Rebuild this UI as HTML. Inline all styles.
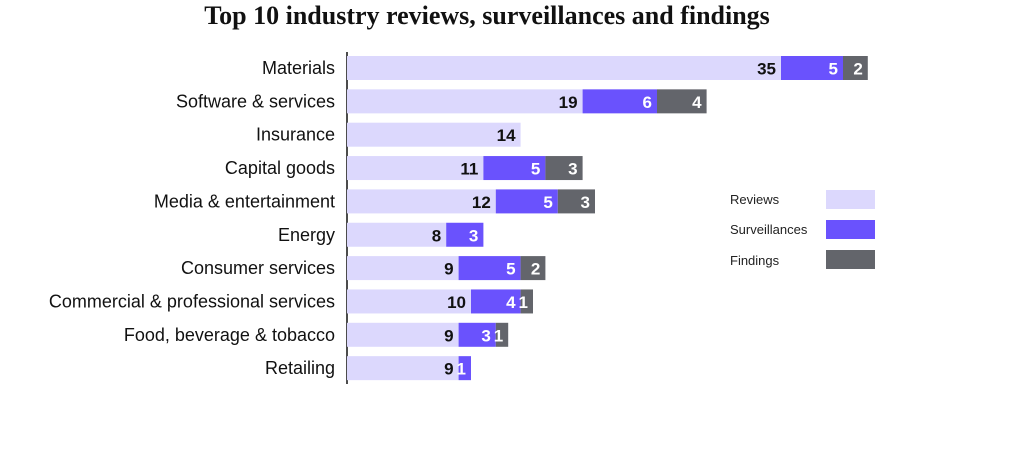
<!DOCTYPE html>
<html><head><meta charset="utf-8"><style>
body{margin:0;background:#fff;width:1024px;height:457px;overflow:hidden}
svg text{font-family:"Liberation Sans",sans-serif}
</style></head><body>
<svg id="c" width="1024" height="457">
<text x="487" y="24" text-anchor="middle" font-family="Liberation Serif,serif" style="font-family:'Liberation Serif',serif" font-weight="bold" font-size="26" fill="#111">Top 10 industry reviews, surveillances and findings</text>
<line x1="347" y1="52" x2="347" y2="384" stroke="#111" stroke-width="1.5"/>
<g>
<text x="730" y="204" font-size="13" fill="#222">Reviews</text>
<rect x="826" y="190" width="49" height="19" fill="#dcd8fd"/>
<text x="730" y="234" font-size="13" fill="#222">Surveillances</text>
<rect x="826" y="220" width="49" height="19" fill="#6a52fd"/>
<text x="730" y="265" font-size="13" fill="#222">Findings</text>
<rect x="826" y="250" width="49" height="19" fill="#63656b"/>
</g>
</svg>
<script>
const categories=["Materials","Software & services","Insurance","Capital goods","Media & entertainment","Energy","Consumer services","Commercial & professional services","Food, beverage & tobacco","Retailing"];
const reviews=[35,19,14,11,12,8,9,10,9,9];
const surveillances=[5,6,0,5,5,3,5,4,3,1];
const findings=[2,4,0,3,3,0,2,1,1,0];
const svg=document.getElementById('c');
const NS='http://www.w3.org/2000/svg';
const x0=347,unit=12.4;
const xs=v=>x0+v*unit;
const yc=i=>68+i*33.35;
function mk(t,a){const e=document.createElementNS(NS,t);for(const k in a)e.setAttribute(k,a[k]);svg.appendChild(e);return e;}
const series=[[reviews,'#dcd8fd','#111','reviews'],[surveillances,'#6a52fd','#fff','surveillances'],[findings,'#63656b','#fff','findings']];
categories.forEach((c,i)=>{
  const l=mk('text',{x:335,y:yc(i)+6,'text-anchor':'end','font-size':18,fill:'#111'});
  l.textContent=c;
  
  
  let acc=0;
  series.forEach(s=>{
    const v=s[0][i];if(!v)return;
    const r=mk('rect',{x:xs(acc),y:yc(i)-12,width:v*unit,height:24,fill:s[1]});
    
    
    acc+=v;
    const t=mk('text',{x:xs(acc)-5,y:yc(i)+6.5,'text-anchor':'end','font-size':17,'font-weight':'bold',fill:s[2]});
    t.textContent=v;
    
    
  });
});
</script>
</body></html>
